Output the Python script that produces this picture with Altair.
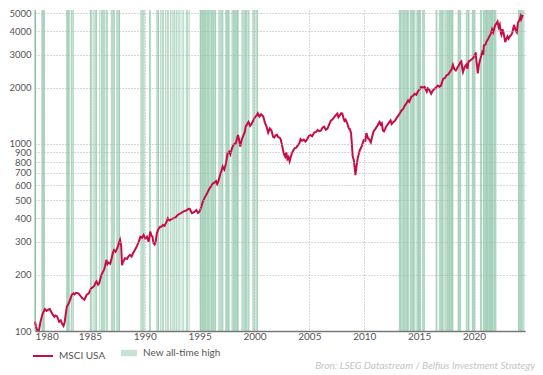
import altair as alt
import pandas as pd

# MSCI USA index level
years = [1980.00, 1980.10, 1980.20, 1980.35, 1980.50, 1980.70, 1980.90, 1981.05, 1981.20, 1981.35,
         1981.50, 1981.60, 1981.75, 1981.85, 1982.00, 1982.10, 1982.20, 1982.35, 1982.45, 1982.60,
         1982.70, 1982.75, 1982.90, 1983.00, 1983.10, 1983.25, 1983.35, 1983.50, 1983.60, 1983.75,
         1983.95, 1984.10, 1984.30, 1984.50, 1984.60, 1984.70, 1984.90, 1985.10, 1985.25, 1985.40,
         1985.50, 1985.60, 1985.75, 1985.85, 1986.05, 1986.20, 1986.30, 1986.45, 1986.50, 1986.60,
         1986.70, 1986.85, 1986.95, 1987.10, 1987.20, 1987.35, 1987.50, 1987.65, 1987.75, 1987.85,
         1987.93, 1988.00, 1988.20, 1988.40, 1988.50, 1988.65, 1988.80, 1988.95, 1989.10, 1989.30,
         1989.50, 1989.60, 1989.75, 1989.90, 1990.05, 1990.20, 1990.35, 1990.50, 1990.60, 1990.70,
         1990.80, 1990.90, 1991.00, 1991.10, 1991.25, 1991.40, 1991.55, 1991.65, 1991.80, 1992.00,
         1992.10, 1992.25, 1992.40, 1992.60, 1992.80, 1993.00, 1993.25, 1993.50, 1993.75, 1994.00,
         1994.10, 1994.30, 1994.50, 1994.70, 1994.85, 1995.00, 1995.15, 1995.30, 1995.45, 1995.60,
         1995.75, 1995.90, 1996.05, 1996.20, 1996.35, 1996.50, 1996.60, 1996.70, 1996.90, 1997.00,
         1997.10, 1997.25, 1997.40, 1997.55, 1997.70, 1997.80, 1997.97, 1998.10, 1998.30, 1998.50,
         1998.60, 1998.70, 1998.85, 1999.00, 1999.10, 1999.20, 1999.35, 1999.45, 1999.60, 1999.75,
         1999.90, 2000.05, 2000.20, 2000.30, 2000.45, 2000.60, 2000.70, 2000.80, 2000.95, 2001.10,
         2001.25, 2001.40, 2001.55, 2001.70, 2001.80, 2001.90, 2002.05, 2002.15, 2002.30, 2002.40,
         2002.50, 2002.60, 2002.70, 2002.80, 2002.90, 2003.00, 2003.10, 2003.20, 2003.30, 2003.40,
         2003.55, 2003.65, 2003.80, 2003.95, 2004.10, 2004.20, 2004.35, 2004.50, 2004.65, 2004.80,
         2004.95, 2005.10, 2005.25, 2005.45, 2005.60, 2005.75, 2005.90, 2006.05, 2006.20, 2006.35,
         2006.50, 2006.65, 2006.80, 2006.95, 2007.10, 2007.25, 2007.40, 2007.55, 2007.65, 2007.80,
         2007.90, 2008.00, 2008.10, 2008.20, 2008.30, 2008.45, 2008.60, 2008.70, 2008.80, 2008.90,
         2008.95, 2009.05, 2009.15, 2009.20, 2009.30, 2009.40, 2009.50, 2009.60, 2009.70, 2009.80,
         2009.95, 2010.10, 2010.20, 2010.35, 2010.45, 2010.60, 2010.75, 2010.85, 2011.00, 2011.15,
         2011.30, 2011.40, 2011.50, 2011.60, 2011.70, 2011.80, 2011.90, 2012.00, 2012.10, 2012.25,
         2012.40, 2012.50, 2012.65, 2012.80, 2012.90, 2013.10, 2013.25, 2013.40, 2013.55, 2013.70,
         2013.85, 2014.00, 2014.10, 2014.30, 2014.45, 2014.60, 2014.75, 2014.90, 2015.05, 2015.20,
         2015.35, 2015.50, 2015.60, 2015.70, 2015.80, 2015.95, 2016.10, 2016.25, 2016.40, 2016.55,
         2016.70, 2016.85, 2017.00, 2017.10, 2017.20, 2017.35, 2017.50, 2017.65, 2017.80, 2017.95,
         2018.08, 2018.20, 2018.35, 2018.50, 2018.60, 2018.75, 2018.85, 2018.95, 2019.00, 2019.15,
         2019.30, 2019.40, 2019.50, 2019.60, 2019.70, 2019.85, 2020.00, 2020.15, 2020.25, 2020.35,
         2020.45, 2020.55, 2020.65, 2020.75, 2020.85, 2020.90, 2021.05, 2021.15, 2021.30, 2021.40,
         2021.55, 2021.65, 2021.75, 2021.95, 2022.05, 2022.15, 2022.25, 2022.35, 2022.45, 2022.50,
         2022.60, 2022.70, 2022.85, 2022.95, 2023.05, 2023.15, 2023.30, 2023.40, 2023.50, 2023.65,
         2023.80, 2023.90, 2024.00, 2024.15, 2024.25, 2024.30, 2024.45]
values = [112, 105, 101, 100, 112, 124, 131, 128, 130, 131,
          126, 123, 119, 121, 120, 116, 112, 114, 110, 106.5,
          111, 117, 135, 138, 142, 150, 156, 159, 157, 160,
          159, 155, 150, 147, 151, 156, 159, 169, 171, 174,
          180, 184, 177, 180, 199, 208, 212, 232, 240, 228,
          232, 229, 240, 262, 271, 265, 277, 295, 307, 285,
          225, 232, 245, 243, 250, 255, 250, 262, 271, 285,
          305, 319, 315, 326, 312, 319, 300, 340, 325, 319,
          295, 290, 300, 333, 350, 361, 362, 369, 365, 384,
          400, 390, 395, 400, 405, 417, 425, 435, 440, 450,
          449, 426, 432, 443, 428, 435, 460, 492, 515, 533,
          555, 578, 595, 614, 620, 633, 610, 628, 697, 720,
          757, 730, 787, 892, 910, 880, 956, 990, 1011, 1116,
          1050, 968, 1060, 1116, 1150, 1237, 1280, 1310, 1250, 1284,
          1340, 1390, 1420, 1460, 1400, 1440, 1420, 1400, 1300, 1237,
          1150, 1209, 1180, 1090, 1081, 1110, 1120, 1090, 1080, 1055,
          990, 929, 880, 856, 900, 830, 850, 808, 850, 892,
          925, 947, 955, 983, 1010, 1060, 1040, 1055, 1030, 1060,
          1100, 1116, 1100, 1150, 1160, 1186, 1170, 1177, 1220, 1237,
          1190, 1209, 1270, 1330, 1350, 1386, 1420, 1455, 1390, 1430,
          1460, 1455, 1380, 1330, 1350, 1290, 1209, 1200, 1142, 950,
          856, 820, 730, 682, 760, 836, 880, 929, 950, 983,
          1049, 1040, 1142, 1070, 1060, 1020, 1110, 1167, 1200, 1237,
          1280, 1310, 1270, 1290, 1180, 1167, 1200, 1237, 1262, 1300,
          1337, 1280, 1310, 1330, 1361, 1416, 1460, 1510, 1540, 1604,
          1650, 1709, 1680, 1787, 1810, 1855, 1830, 1911, 1960, 2020,
          2000, 2020, 1960, 1900, 1980, 1940, 1855, 1930, 1970, 2000,
          2050, 2020, 2050, 2150, 2230, 2250, 2330, 2350, 2420, 2500,
          2650, 2520, 2470, 2560, 2620, 2720, 2760, 2500, 2420, 2580,
          2650, 2520, 2760, 2780, 2800, 2850, 2920, 3090, 2700, 2380,
          2650, 2800, 2950, 3090, 3000, 3365, 3400, 3530, 3650, 3760,
          3900, 4100, 3950, 4340, 4400, 4510, 4200, 4340, 3900, 3830,
          4100, 3920, 3500, 3650, 3760, 3650, 3780, 3830, 3950, 4330,
          4040, 3950, 4440, 4600, 4800, 4650, 4900]

# dates of new all-time highs
ath_years = [1980.00, 1980.02, 1980.04,
             1980.62, 1980.70, 1980.78, 1980.86,
             1982.88, 1982.96, 1983.05, 1983.13, 1983.30, 1983.38, 1983.50,
             1985.05, 1985.15, 1985.30, 1985.45, 1985.55, 1985.62, 1985.90, 1986.05, 1986.15,
             1986.25, 1986.35, 1986.50, 1986.60, 1986.95, 1987.05, 1987.15, 1987.25, 1987.45,
             1987.55, 1987.65, 1987.70,
             1989.65, 1989.75, 1989.85, 1989.95, 1990.45, 1990.50,
             1991.10, 1991.20, 1991.25, 1991.45, 1991.60, 1991.70, 1991.90, 1992.05, 1992.15,
             1992.35, 1992.50, 1992.65, 1992.75, 1992.90, 1993.05, 1993.20, 1993.40, 1993.55,
             1993.80, 1993.90, 1994.05,
             1995.05, 1995.12, 1995.20, 1995.28, 1995.35, 1995.45, 1995.52, 1995.60, 1995.70,
             1995.78, 1995.85, 1995.95, 1996.05, 1996.12, 1996.20, 1996.28, 1996.38, 1996.45,
             1996.75, 1996.85, 1996.95, 1997.05, 1997.12, 1997.38, 1997.45, 1997.55, 1997.62,
             1997.70, 1997.95, 1998.05, 1998.12, 1998.20, 1998.28, 1998.38, 1998.45, 1998.52,
             1998.85, 1998.95, 1999.05, 1999.15, 1999.22, 1999.30, 1999.42, 1999.50, 1999.85,
             1999.95, 2000.05, 2000.20, 2000.28,
             2013.20, 2013.28, 2013.35, 2013.45, 2013.55, 2013.62, 2013.70, 2013.80, 2013.88,
             2013.95, 2014.05, 2014.20, 2014.28, 2014.38, 2014.45, 2014.52, 2014.62, 2014.80,
             2014.88, 2014.95, 2015.05, 2015.12, 2015.30, 2015.40, 2015.50,
             2016.55, 2016.62, 2016.85, 2016.95, 2017.05, 2017.12, 2017.20, 2017.35, 2017.45,
             2017.55, 2017.62, 2017.70, 2017.78, 2017.85, 2017.95, 2018.02, 2018.08,
             2018.55, 2018.62, 2018.70, 2018.78,
             2019.30, 2019.38, 2019.50, 2019.55, 2019.85, 2019.92, 2020.00, 2020.10,
             2020.60, 2020.68, 2020.85, 2020.92, 2021.00, 2021.08, 2021.15, 2021.22, 2021.30,
             2021.38, 2021.45, 2021.52, 2021.60, 2021.68, 2021.75, 2021.85, 2021.92, 2022.00,
             2024.05, 2024.12, 2024.20, 2024.28, 2024.35, 2024.45, 2024.55]

x_ticks = [1980, 1985, 1990, 1995, 2000, 2005, 2010, 2015, 2020]
y_ticks = [100, 200, 300, 400, 500, 600, 700, 800, 900, 1000, 2000, 3000, 4000, 5000]
source = "Bron: LSEG Datastream / Belfius Investment Strategy"

FONT = "Lato"
W, H = 490, 321

line_df = pd.DataFrame({"year": years, "value": values, "series": ["MSCI USA"] * len(years)})
ath_df = pd.DataFrame({"year": ath_years, "kind": ["New all-time high"] * len(ath_years)})

x_enc = alt.X("year:Q",
              scale=alt.Scale(domain=[1980, 2024.65], nice=False, zero=False),
              axis=alt.Axis(values=x_ticks, format="d", title=None, grid=True,
                            gridDash=[1, 2], gridColor="#b0b0b0", gridWidth=1,
                            ticks=False, labelPadding=0, domainColor="#777",
                            domainWidth=1.5, labelFont=FONT, labelFontSize=10,
                            labelColor="#555", zindex=1))

rules = alt.Chart(ath_df).mark_rule(strokeWidth=1.1, opacity=0.38).encode(
    x=x_enc,
    color=alt.Color("kind:N", scale=alt.Scale(range=["#3f9e6d"]),
                    legend=alt.Legend(title=None, orient="none", legendX=86, legendY=335,
                                      symbolType="M-1,-0.4H1V0.4H-1Z", symbolSize=256,
                                      symbolFillColor="#c6e4d3", symbolStrokeColor="#c6e4d3",
                                      symbolOpacity=1, symbolStrokeWidth=0,
                                      labelFont=FONT, labelFontSize=10, labelColor="#555",
                                      labelOffset=6)),
)

line = alt.Chart(line_df).mark_line(strokeWidth=2).encode(
    x=x_enc,
    y=alt.Y("value:Q",
            scale=alt.Scale(type="log", domain=[100, 5200], nice=False),
            axis=alt.Axis(values=y_ticks, format="d", title=None, domain=False, ticks=False,
                          grid=True, gridDash=[1, 2], gridColor="#b0b0b0", gridWidth=1,
                          labelPadding=4, labelFont=FONT, labelFontSize=9.5,
                          labelOverlap=False, labelColor="#555", zindex=1)),
    color=alt.Color("series:N", scale=alt.Scale(range=["#c80c46"]),
                    legend=alt.Legend(title=None, orient="none", legendX=-3, legendY=335,
                                      symbolType="stroke", symbolSize=400,
                                      symbolStrokeWidth=2,
                                      labelFont=FONT, labelFontSize=10, labelColor="#555",
                                      labelOffset=5)),
)

src = alt.Chart(pd.DataFrame({"t": [source]})).mark_text(
    align="right", baseline="middle", font=FONT, fontSize=10, fontStyle="italic",
    color="#c4c4c4").encode(text="t:N", x=alt.value(W + 10), y=alt.value(H + 35))

chart = alt.layer(rules, line, src).resolve_scale(color="independent").properties(
    width=W, height=H, padding={"left": 0, "top": 0, "right": 0, "bottom": 0}
).configure_view(stroke=None)

chart.save("out.html", embed_options={"renderer": "svg", "actions": False})
